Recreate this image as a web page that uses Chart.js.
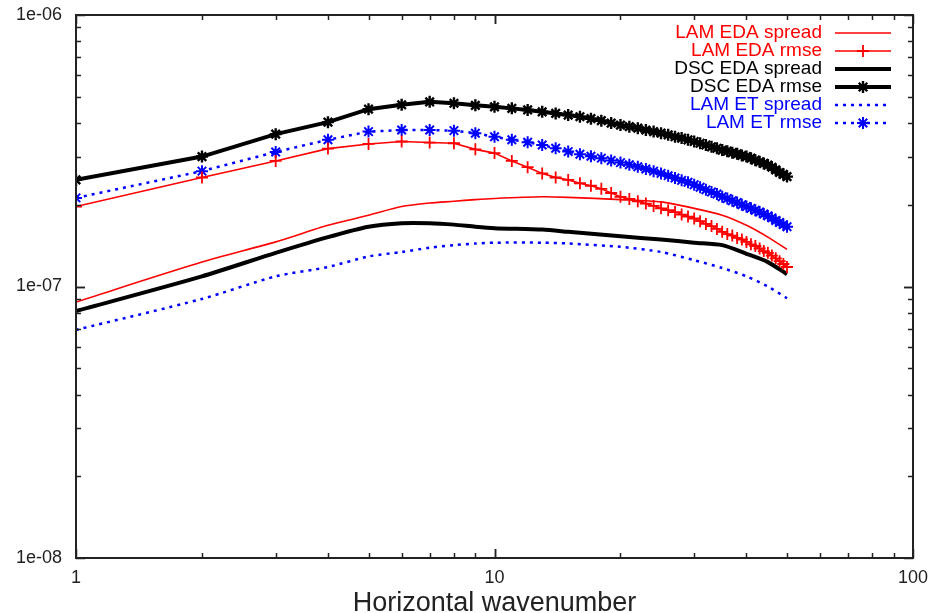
<!DOCTYPE html>
<html lang="en">
<head>
    <meta charset="UTF-8">
    <title>Spread / rmse spectra</title>
    <script src="https://cdn.jsdelivr.net/npm/chart.js"></script>
    <style>
        body { margin: 0; background: #fff; }
        #wrap { width: 933px; height: 613px; }
    </style>
</head>
<body>
    <div id="wrap"><canvas id="specChart" width="933" height="613"></canvas></div>

    <script>
        // wavenumbers of the rmse curves (one marker per wavenumber)
        const wavenumbers = [1, 2, 3, 4, 5, 6, 7, 8, 9, 10, 11, 12, 13, 14, 15, 16, 17, 18, 19, 20,
            21, 22, 23, 24, 25, 26, 27, 28, 29, 30, 31, 32, 33, 34, 35, 36, 37, 38, 39, 40,
            41, 42, 43, 44, 45, 46, 47, 48, 49, 50];
        // wavenumbers read for the smooth spread curves
        const spreadK = [1, 2, 3, 4, 5, 6, 7, 8, 9, 10, 13, 15, 20, 25, 30, 35, 40, 45, 50];

        const lamEdaSpread = [8.77e-8, 1.23e-7, 1.46e-7, 1.68e-7, 1.83e-7, 1.97e-7, 2.03e-7, 2.06e-7, 2.09e-7, 2.11e-7,
            2.14e-7, 2.13e-7, 2.09e-7, 2.05e-7, 1.94e-7, 1.83e-7, 1.68e-7, 1.52e-7, 1.37e-7];
        const dscEdaSpread = [8.12e-8, 1.09e-7, 1.33e-7, 1.52e-7, 1.66e-7, 1.71e-7, 1.71e-7, 1.69e-7, 1.66e-7, 1.64e-7,
            1.62e-7, 1.59e-7, 1.53e-7, 1.49e-7, 1.45e-7, 1.42e-7, 1.32e-7, 1.23e-7, 1.11e-7];
        const lamEtSpread = [6.92e-8, 9.0e-8, 1.09e-7, 1.18e-7, 1.29e-7, 1.34e-7, 1.39e-7, 1.42e-7, 1.44e-7, 1.45e-7,
            1.45e-7, 1.44e-7, 1.40e-7, 1.34e-7, 1.25e-7, 1.17e-7, 1.09e-7, 1.0e-7, 9.05e-8];

        const lamEdaRmse = [1.97e-7, 2.52e-7, 2.90e-7, 3.22e-7, 3.35e-7, 3.42e-7, 3.39e-7, 3.37e-7, 3.20e-7, 3.10e-7,
            2.90e-7, 2.75e-7, 2.61e-7, 2.52e-7, 2.47e-7, 2.40e-7, 2.35e-7, 2.29e-7, 2.21e-7, 2.14e-7,
            2.10e-7, 2.06e-7, 2.02e-7, 1.98e-7, 1.94e-7, 1.91e-7, 1.88e-7, 1.84e-7, 1.81e-7, 1.78e-7,
            1.74e-7, 1.70e-7, 1.67e-7, 1.63e-7, 1.59e-7, 1.56e-7, 1.54e-7, 1.51e-7, 1.49e-7, 1.46e-7,
            1.43e-7, 1.41e-7, 1.38e-7, 1.35e-7, 1.33e-7, 1.30e-7, 1.27e-7, 1.24e-7, 1.21e-7, 1.18e-7];
        const dscEdaRmse = [2.47e-7, 3.01e-7, 3.64e-7, 4.03e-7, 4.50e-7, 4.67e-7, 4.79e-7, 4.73e-7, 4.65e-7, 4.59e-7,
            4.53e-7, 4.47e-7, 4.40e-7, 4.34e-7, 4.28e-7, 4.22e-7, 4.15e-7, 4.08e-7, 4.00e-7, 3.93e-7,
            3.88e-7, 3.83e-7, 3.77e-7, 3.72e-7, 3.67e-7, 3.62e-7, 3.56e-7, 3.52e-7, 3.47e-7, 3.42e-7,
            3.37e-7, 3.32e-7, 3.27e-7, 3.23e-7, 3.18e-7, 3.15e-7, 3.11e-7, 3.08e-7, 3.04e-7, 3.01e-7,
            2.97e-7, 2.92e-7, 2.88e-7, 2.84e-7, 2.80e-7, 2.75e-7, 2.69e-7, 2.63e-7, 2.59e-7, 2.54e-7];
        const lamEtRmse = [2.12e-7, 2.66e-7, 3.13e-7, 3.47e-7, 3.72e-7, 3.77e-7, 3.77e-7, 3.75e-7, 3.67e-7, 3.56e-7,
            3.47e-7, 3.40e-7, 3.32e-7, 3.23e-7, 3.14e-7, 3.07e-7, 3.02e-7, 2.97e-7, 2.91e-7, 2.86e-7,
            2.81e-7, 2.76e-7, 2.71e-7, 2.66e-7, 2.61e-7, 2.56e-7, 2.51e-7, 2.46e-7, 2.42e-7, 2.37e-7,
            2.32e-7, 2.27e-7, 2.23e-7, 2.19e-7, 2.14e-7, 2.11e-7, 2.07e-7, 2.04e-7, 2.00e-7, 1.97e-7,
            1.94e-7, 1.91e-7, 1.88e-7, 1.85e-7, 1.82e-7, 1.79e-7, 1.75e-7, 1.72e-7, 1.69e-7, 1.66e-7];

        const xTickLabels = [1, 10, 100];
        const yTickLabels = [1e-8, 1e-7, 1e-6];
        const yTickText = ['1e-08', '1e-07', '1e-06'];
        const xTitle = 'Horizontal wavenumber';

        const pts = (xs, ys) => ys.map((v, i) => ({ x: xs[i], y: v }));

        const datasets = [
            { label: 'LAM EDA spread', data: pts(spreadK, lamEdaSpread), borderColor: '#ff0000', borderWidth: 1.6,
              pointRadius: 0, tension: 0.25 },
            { label: 'LAM EDA rmse', data: pts(wavenumbers, lamEdaRmse), borderColor: '#ff0000', borderWidth: 1.6,
              pointStyle: 'cross', pointRadius: 6, pointBorderWidth: 1.8, pointBorderColor: '#ff0000' },
            { label: 'DSC EDA spread', data: pts(spreadK, dscEdaSpread), borderColor: '#000000', borderWidth: 4,
              pointRadius: 0, tension: 0.25 },
            { label: 'DSC EDA rmse', data: pts(wavenumbers, dscEdaRmse), borderColor: '#000000', borderWidth: 4,
              pointStyle: 'star', pointRadius: 6, pointBorderWidth: 2.4, pointBorderColor: '#000000' },
            { label: 'LAM ET spread', data: pts(spreadK, lamEtSpread), borderColor: '#0000ff', borderWidth: 2.5,
              borderDash: [3, 5], pointRadius: 0, tension: 0.25 },
            { label: 'LAM ET rmse', data: pts(wavenumbers, lamEtRmse), borderColor: '#0000ff', borderWidth: 2.5,
              borderDash: [3, 5], pointStyle: 'star', pointRadius: 6, pointBorderWidth: 2, pointBorderColor: '#0000ff' }
        ];
        datasets.forEach(d => { d.showLine = true; d.fill = false; d.backgroundColor = d.borderColor; });

        // frame, gnuplot-like ticks, tick labels, axis title and legend
        const frameAndLegend = {
            id: 'frameAndLegend',
            afterDraw(chart) {
                const ctx = chart.ctx;
                const a = chart.chartArea;
                const xs = chart.scales.x, ys = chart.scales.y;
                ctx.save();
                ctx.strokeStyle = '#222';
                ctx.lineWidth = 1.5;

                // x ticks (top and bottom)
                for (let dec = 1; dec < 100; dec *= 10) {
                    for (let m = 1; m <= 10; m++) {
                        const v = dec * m;
                        const px = Math.round(xs.getPixelForValue(v)) + 0.5;
                        const len = (m === 1 || m === 10) ? 9 : 5;
                        ctx.beginPath();
                        ctx.moveTo(px, a.bottom); ctx.lineTo(px, a.bottom - len);
                        ctx.moveTo(px, a.top); ctx.lineTo(px, a.top + len);
                        ctx.stroke();
                    }
                }
                // y ticks (left and right)
                for (let dec = 1e-8; dec < 1e-6 * 0.99; dec *= 10) {
                    for (let m = 1; m <= 10; m++) {
                        const py = Math.round(ys.getPixelForValue(dec * m)) + 0.5;
                        const len = (m === 1 || m === 10) ? 9 : 5;
                        ctx.beginPath();
                        ctx.moveTo(a.left, py); ctx.lineTo(a.left + len, py);
                        ctx.moveTo(a.right, py); ctx.lineTo(a.right - len, py);
                        ctx.stroke();
                    }
                }
                // frame
                ctx.lineWidth = 2;
                ctx.strokeRect(a.left, a.top, a.right - a.left, a.bottom - a.top);

                // tick labels
                ctx.fillStyle = '#222';
                ctx.font = '18px "Liberation Sans", Arial, sans-serif';
                ctx.textAlign = 'right';
                ctx.textBaseline = 'middle';
                yTickLabels.forEach((v, i) => ctx.fillText(yTickText[i], a.left - 14, ys.getPixelForValue(v)));
                ctx.textAlign = 'center';
                ctx.textBaseline = 'top';
                xTickLabels.forEach(v => ctx.fillText(String(v), xs.getPixelForValue(v), a.bottom + 11));

                // axis title
                ctx.font = '27px "Liberation Sans", Arial, sans-serif';
                ctx.textBaseline = 'alphabetic';
                ctx.fillText(xTitle, (a.left + a.right) / 2, 611);

                // legend (text right aligned, sample on the right)
                ctx.font = '19px "Liberation Sans", Arial, sans-serif';
                ctx.textAlign = 'right';
                ctx.textBaseline = 'middle';
                chart.data.datasets.forEach((d, i) => {
                    const y = 33 + i * 18;
                    ctx.fillStyle = d.borderColor;
                    ctx.fillText(d.label, 822, y);
                    ctx.strokeStyle = d.borderColor;
                    ctx.lineWidth = d.borderWidth;
                    ctx.setLineDash(d.borderDash || []);
                    ctx.beginPath();
                    ctx.moveTo(835, y); ctx.lineTo(891, y);
                    ctx.stroke();
                    ctx.setLineDash([]);
                    if (d.pointRadius > 0 && Chart.helpers && Chart.helpers.drawPoint) {
                        ctx.lineWidth = d.pointBorderWidth;
                        Chart.helpers.drawPoint(ctx, { pointStyle: d.pointStyle, radius: d.pointRadius, rotation: 0, borderWidth: d.pointBorderWidth }, 863, y);
                    }
                });
                ctx.restore();
            }
        };

        const ctx = document.getElementById('specChart').getContext('2d');
        const specChart = new Chart(ctx, {
            type: 'scatter',
            data: { datasets: datasets },
            options: {
                responsive: false,
                animation: false,
                layout: { padding: { left: 76, right: 20, top: 15, bottom: 55 } },
                plugins: { legend: { display: false }, tooltip: { enabled: false } },
                scales: {
                    x: { type: 'logarithmic', min: 1, max: 100, display: false },
                    y: { type: 'logarithmic', min: 1e-8, max: 1e-6, display: false }
                }
            },
            plugins: [frameAndLegend]
        });
    </script>
</body>
</html>
